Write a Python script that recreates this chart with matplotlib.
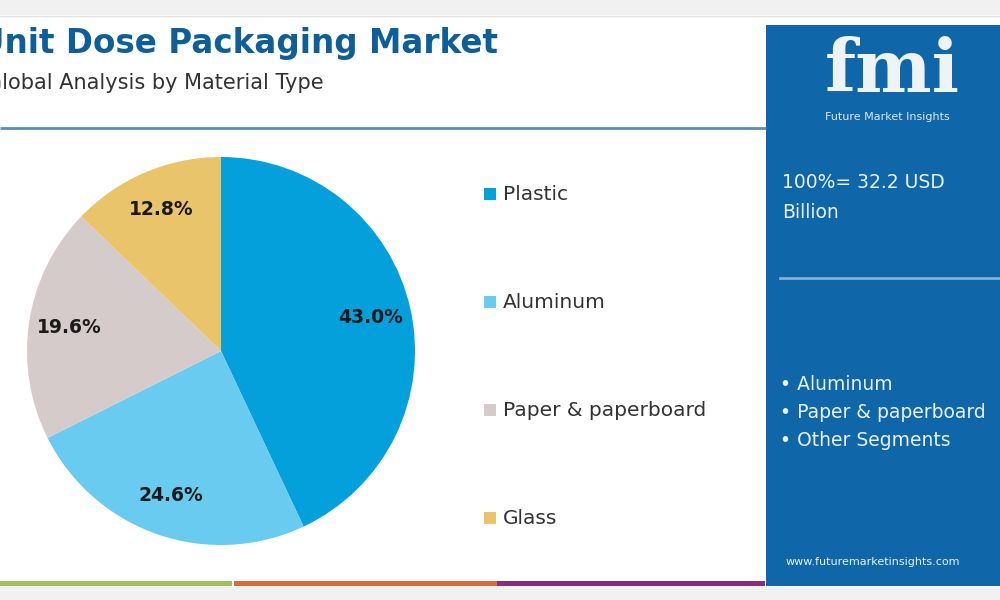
import matplotlib
matplotlib.use("Agg")
import matplotlib.pyplot as plt
from matplotlib.patches import Rectangle

# ---- data ----
categories = ["Plastic", "Aluminum", "Paper & paperboard", "Glass"]
shares = [43.0, 24.6, 19.6, 12.8]
colors = ["#03a0dc", "#69cbf0", "#d6cbcb", "#eac46b"]
title = "Unit Dose Packaging Market"
subtitle = "Global Analysis by Material Type"
total_text = ["100%= 32.2 USD", "Billion"]
other_segments = ["Aluminum", "Paper & paperboard", "Other Segments"]

FONT = ["DejaVu Sans"]
plt.rcParams["font.family"] = FONT

W, H = 1000, 600
fig = plt.figure(figsize=(W / 100, H / 100), dpi=100, facecolor="white")

# background canvas in pixel coordinates
bg = fig.add_axes([0, 0, 1, 1], zorder=0)
bg.set_xlim(0, W)
bg.set_ylim(H, 0)
bg.axis("off")

# top and bottom grey strips
bg.add_patch(Rectangle((0, 0), W, 15, color="#f1f1f1", lw=0))
bg.plot([0, W], [15.5, 15.5], color="#e0e0e0", lw=1)
bg.add_patch(Rectangle((0, 587), W, 13, color="#f1f1f1", lw=0))
# bottom coloured bars
bg.add_patch(Rectangle((0, 581), 232, 5, color="#9bc25b", lw=0))
bg.add_patch(Rectangle((234, 581), 263, 5, color="#e0673f", lw=0))
bg.add_patch(Rectangle((497, 581), 268, 5, color="#8b2a7e", lw=0))

# divider under title
bg.plot([0, 766], [128, 128], color="#5b8db8", lw=2, solid_capstyle="butt")

# right panel
bg.add_patch(Rectangle((766, 25), 234, 561, color="#0f67a9", lw=0))
bg.text(892, 72, "fmi", color="#eef3f8", fontsize=52, fontweight="bold",
        family=["DejaVu Serif"], ha="center", va="center")
bg.text(887, 117, "Future Market Insights", color="#dbe7f2", fontsize=8,
        ha="center", va="center")
bg.text(782, 182, total_text[0], color="#e9f0f7", fontsize=13.5, va="center")
bg.text(782, 213, total_text[1], color="#e9f0f7", fontsize=13.5, va="center")
bg.plot([780, 1000], [278, 278], color="#7fb0d8", lw=2)
for i, seg in enumerate(other_segments):
    bg.text(780, 384 + i * 28.5, "\u2022 " + seg, color="#e9f0f7",
            fontsize=13.5, va="center")
bg.text(786, 562, "www.futuremarketinsights.com", color="#e9f0f7",
        fontsize=8, va="center")

# titles
bg.text(-22, 53, title, color="#0e5f97", fontsize=23.5, fontweight="bold",
        va="baseline", ha="left")
bg.text(-14, 89, subtitle, color="#333333", fontsize=15, va="baseline",
        ha="left")

# legend (manual)
leg_y0, leg_dy = 194, 108
for i, (cat, col) in enumerate(zip(categories, colors)):
    y = leg_y0 + i * leg_dy
    bg.add_patch(Rectangle((484, y - 6), 12, 12, color=col, lw=0))
    bg.text(503, y, cat, color="#333333", fontsize=14.5, va="center", ha="left")

# pie
cx, cy, r = 221, 351, 194
pax = fig.add_axes([(cx - r) / W, (H - cy - r) / H, 2 * r / W, 2 * r / H],
                   zorder=2)
wedges, texts, autotexts = pax.pie(
    shares, colors=colors, startangle=90, counterclock=False,
    autopct="%.1f%%", pctdistance=0.79, radius=1,
    wedgeprops=dict(linewidth=0),
    textprops=dict(fontsize=13.5, fontweight="bold", color="#1a1a1a"))
pax.set_xlim(-1, 1)
pax.set_ylim(-1, 1)
pax.set_aspect("auto")
pax.axis("off")

fig.savefig("out.png", dpi=100, facecolor="white")
